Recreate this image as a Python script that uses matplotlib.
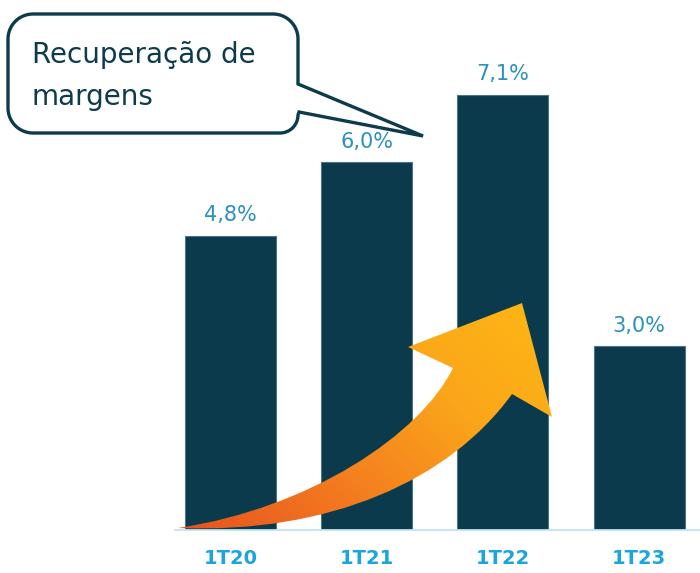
import numpy as np
import matplotlib.pyplot as plt
from matplotlib.path import Path
from matplotlib.patches import PathPatch, Polygon
from matplotlib.colors import LinearSegmentedColormap

# Dados do gráfico
trimestres = ['1T20', '1T21', '1T22', '1T23']
margens = [4.8, 6.0, 7.1, 3.0]

cor_barra = '#0a3a4b'
cor_valor = '#2a90c0'
cor_tick = '#1ca5dc'
cor_balao = '#0d3b4c'

fig = plt.figure(figsize=(7, 5.73), dpi=100)
fig.patch.set_facecolor('white')

# Eixo principal (barras)
ax = fig.add_axes([175 / 700, 43 / 573, 525 / 700, 530 / 573])
x = np.arange(len(trimestres))
ax.bar(x, margens, width=0.668, color=cor_barra, edgecolor='#4d7482', linewidth=0.8, zorder=2)
ax.set_xlim(-0.4075, 3.447)
ax.set_ylim(0, 8.646)

for xi, v in zip(x, margens):
    ax.annotate(f'{v:.1f}'.replace('.', ',') + '%', (xi, v), xytext=(0, 10.5),
                textcoords='offset points', ha='center', va='baseline',
                fontsize=15, color=cor_valor)

ax.set_xticks(x)
ax.set_xticklabels(trimestres, fontsize=14, fontweight='bold', color=cor_tick)
ax.tick_params(axis='x', length=0, pad=14)
ax.set_yticks([])
for lado in ['top', 'right', 'left']:
    ax.spines[lado].set_visible(False)
ax.spines['bottom'].set_color('#bfe4f2')
ax.spines['bottom'].set_linewidth(1.3)
ax.patch.set_visible(False)

# Camada de sobreposição em pixels (seta e balão)
ov = fig.add_axes([0, 0, 1, 1], zorder=5)
ov.axis('off')
ov.patch.set_visible(False)

# Seta curva com gradiente
verts = [
    (178, 528),
    (330, 534), (450, 480), (512, 394),
    (552, 417),
    (522, 303),
    (408, 347),
    (453, 368),
    (420, 435), (310, 508), (178, 528),
    (178, 528),
]
codes = [Path.MOVETO,
         Path.CURVE4, Path.CURVE4, Path.CURVE4,
         Path.LINETO, Path.LINETO, Path.LINETO, Path.LINETO,
         Path.CURVE4, Path.CURVE4, Path.CURVE4,
         Path.CLOSEPOLY]
seta = PathPatch(Path(verts, codes), facecolor='none', edgecolor='none')
ov.add_patch(seta)

cmap = LinearSegmentedColormap.from_list('seta', ['#e4501f', '#f37a20', '#fba61a', '#fdb913'])
gx, gy = np.meshgrid(np.linspace(0, 1, 300), np.linspace(0, 1, 200))
grad = 0.6 * gx + 0.4 * (1 - gy)
img = ov.imshow(grad, cmap=cmap, extent=(170, 560, 535, 295), origin='upper',
                aspect='auto', zorder=3)
img.set_clip_path(seta)
ov.set_xlim(0, 700)
ov.set_ylim(573, 0)


# Balão de texto
def arco(cx, cy, r, a0, a1, n=20):
    t = np.radians(np.linspace(a0, a1, n))
    return list(zip(cx + r * np.cos(t), cy + r * np.sin(t)))


x0, x1, y0, y1, r, r2 = 8, 298, 14, 133, 25, 18
pts = []
pts += arco(x0 + r, y0 + r, r, 180, 270)
pts += arco(x1 - r, y0 + r, r, 270, 360)
pts += [(x1, 84), (423, 136), (299, 112)]
pts += arco(x1 - r2, y1 - r2, r2, 0, 90)
pts += arco(x0 + r, y1 - r, r, 90, 180)
balao = Polygon(pts, closed=True, facecolor='white', edgecolor=cor_balao,
                linewidth=2.4, joinstyle='miter', zorder=4)
ov.add_patch(balao)
ov.text(32, 55, 'Recuperação de', fontsize=20, color=cor_balao, va='center', ha='left', zorder=6)
ov.text(32, 97, 'margens', fontsize=20, color=cor_balao, va='center', ha='left', zorder=6)

fig.savefig('out.png', dpi=100)
